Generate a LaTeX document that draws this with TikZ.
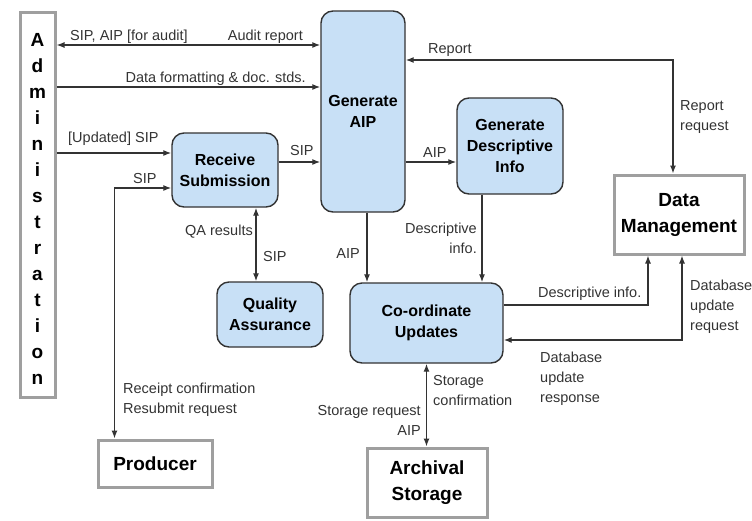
\documentclass[tikz,border=0pt]{standalone}
\usepackage{fontspec}
\setmainfont{Liberation Sans}
\usetikzlibrary{arrows.meta}

\definecolor{boxblue}{RGB}{200,224,246}
\definecolor{inkgray}{RGB}{51,51,51}

\begin{document}
\begin{tikzpicture}[x=1pt,y=-1pt,>={Latex[length=8pt,width=6pt]},
  proc/.style={draw=inkgray, line width=1.4pt, fill=boxblue, rounded corners=12pt,
    align=center, font=\fontsize{16}{21}\selectfont\bfseries, inner sep=0pt},
  ext/.style={draw=gray!75, line width=3pt, fill=white, align=center,
    font=\fontsize{19}{26}\selectfont\bfseries, inner sep=0pt},
  flow/.style={draw=inkgray, line width=1.3pt},
  lab/.style={text=inkgray, font=\fontsize{14.5}{20}\selectfont, inner sep=0pt}]
  \useasboundingbox (0,0) rectangle (752,520);

  % outside entities
  \node[ext, minimum width=35pt, minimum height=385pt] (admin) at (37.5,204.5) {};
  \foreach \ch [count=\i from 0] in {A,d,m,i,n,i,s,t,r,a,t,i,o,n}
    \node[font=\fontsize{19}{19}\selectfont\bfseries, anchor=base] (adm\i) at (37.5,46+26*\i) {\ch};
  \node[ext, minimum width=114pt, minimum height=47pt] (prod) at (155,463.5) {Producer};
  \node[ext, minimum width=130pt, minimum height=79pt] (dm) at (679,214.5) {Data\\Management};
  \node[ext, minimum width=120pt, minimum height=69pt] (arch) at (427,482.5) {Archival\\Storage};

  % functions
  \node[proc, minimum width=84pt, minimum height=201pt] (gen) at (363,111.5) {Generate\\AIP};
  \node[proc, minimum width=106pt, minimum height=74pt] (recv) at (225,170) {Receive\\Submission};
  \node[proc, minimum width=106pt, minimum height=96pt] (gdi) at (510,146) {Generate\\Descriptive\\Info};
  \node[proc, minimum width=106pt, minimum height=65pt] (qa) at (270,314.5) {Quality\\Assurance};
  \node[proc, minimum width=153pt, minimum height=80pt] (cu) at (426.5,323) {Co-ordinate\\Updates};

  % flows
  \draw[flow, <->] (admin.east |- 0,45) -- (gen.west |- 0,45);
  \draw[flow, ->] (admin.east |- 0,87) -- (gen.west |- 0,87);
  \draw[flow, ->] (admin.east |- 0,153) -- (recv.west |- 0,153);
  \draw[flow, <->] (recv.west |- 0,188) -| ([xshift=18pt]prod.north west);
  \draw[flow, ->] (recv.east |- 0,162) -- (gen.west |- 0,162);
  \draw[flow, <->] (recv.south -| 256,0) -- (qa.north -| 256,0);
  \draw[flow, ->] (gen.east |- 0,162) -- (gdi.west |- 0,162);
  \draw[flow, <->] (gen.east |- 0,60) -| ([xshift=-6pt]dm.north);
  \draw[flow, ->] (gen.south -| 367,0) -- (cu.north -| 367,0);
  \draw[flow, ->] (gdi.south -| 482,0) -- (cu.north -| 482,0);
  \draw[flow, ->] (cu.east |- 0,305) -| (dm.south -| 648,0);
  \draw[flow, <->] (cu.east |- 0,340) -| (dm.south -| 682,0);
  \draw[flow, <->] (cu.south) -- (cu.south |- arch.north);

  % labels
  \node[lab, anchor=base west] (l1) at (70,40) {SIP, AIP [for audit]};
  \node[lab, anchor=base east] (l2) at (303,40) {Audit report};
  \node[lab, anchor=base east] (l3) at (306,82) {Data formatting \& doc. stds.};
  \node[lab, anchor=base west] (l4) at (68,142) {[Updated] SIP};
  \node[lab, anchor=base west] (l5) at (133,183) {SIP};
  \node[lab, anchor=base west] (l6) at (290,155) {SIP};
  \node[lab, anchor=base east] (l7) at (253,235) {QA results};
  \node[lab, anchor=base west] (l8) at (263,261) {SIP};
  \node[lab, anchor=base west] (l9) at (423,157) {AIP};
  \node[lab, anchor=base west] (l10) at (428,53) {Report};
  \node[lab, anchor=north west, align=left] (l11) at (680,100) {Report\\request};
  \node[lab, anchor=base east] (l12) at (360,258) {AIP};
  \node[lab, anchor=north east, align=right] (l13) at (477,223) {Descriptive\\info.};
  \node[lab, anchor=base west] (l14) at (538,297) {Descriptive info.};
  \node[lab, anchor=north west, align=left] (l15) at (690,280) {Database\\update\\request};
  \node[lab, anchor=north west, align=left] (l16) at (540,352) {Database\\update\\response};
  \node[lab, anchor=north west, align=left] (l17) at (123,383) {Receipt confirmation\\Resubmit request};
  \node[lab, anchor=north west, align=left] (l18) at (433,375) {Storage\\confirmation};
  \node[lab, anchor=north east, align=right] (l19) at (421,405) {Storage request\\AIP};
\end{tikzpicture}
\end{document}
